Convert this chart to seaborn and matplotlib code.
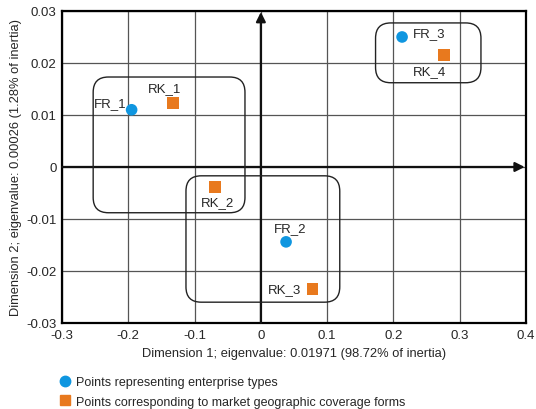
import numpy as np
import pandas as pd
import matplotlib
matplotlib.use("Agg")
import matplotlib.pyplot as plt
import seaborn as sns
from matplotlib.patches import FancyBboxPatch
from matplotlib.lines import Line2D

# -----------------------------
# DATA
# -----------------------------
labels = ["FR_1", "FR_2", "FR_3", "RK_1", "RK_2", "RK_3", "RK_4"]
dim1 = [-0.195, 0.038, 0.213, -0.133, -0.069, 0.078, 0.276]
dim2 = [0.011, -0.0144, 0.025, 0.0123, -0.0038, -0.0235, 0.0215]
groups = ["enterprise"] * 3 + ["market"] * 4
legend_text = ["Points representing enterprise types",
               "Points corresponding to market geographic coverage forms"]

# group boxes: (x0, y0, x1, y1)
boxes = [(-0.253, -0.0088, -0.024, 0.0173),
         (-0.113, -0.026, 0.119, -0.0017),
         (0.173, 0.0162, 0.332, 0.0277)]

df = pd.DataFrame({"label": labels, "x": dim1, "y": dim2, "group": groups})

# -----------------------------
# PLOT
# -----------------------------
sns.set_style("white")
plt.rcParams["font.family"] = ["Liberation Sans", "DejaVu Sans"]

fig = plt.figure(figsize=(5.36, 4.10), dpi=100)
ax = fig.add_axes([0.1157, 0.2098, 0.8657, 0.7610])

blue = "#0f96e0"
orange = "#e8791e"

sns.scatterplot(data=df, x="x", y="y", hue="group", style="group",
                palette={"enterprise": blue, "market": orange},
                markers={"enterprise": "o", "market": "s"},
                s=70, edgecolor="none", legend=False, ax=ax, zorder=5)

ax.set_xlim(-0.3, 0.4)
ax.set_ylim(-0.03, 0.03)
ax.set_xticks(np.arange(-0.3, 0.41, 0.1))
ax.set_yticks(np.arange(-0.03, 0.031, 0.01))
ax.set_xticklabels(["-0.3", "-0.2", "-0.1", "0", "0.1", "0.2", "0.3", "0.4"])
ax.set_yticklabels(["-0.03", "-0.02", "-0.01", "0", "0.01", "0.02", "0.03"])
ax.tick_params(labelsize=9.5, length=0, pad=4)
ax.grid(True, color="#555555", lw=0.9)
for sp in ax.spines.values():
    sp.set_color("black")
    sp.set_linewidth(1.6)

ax.set_xlabel("Dimension 1; eigenvalue: 0.01971 (98.72% of inertia)", fontsize=9.3, labelpad=5)
ax.set_ylabel("Dimension 2; eigenvalue: 0.00026 (1.28% of inertia)", fontsize=9.3, labelpad=3)

# central axes with arrows
ax.annotate("", xy=(0.398, 0), xytext=(-0.3, 0),
            arrowprops=dict(arrowstyle="-|>", lw=1.6, color="#111111",
                            mutation_scale=14, shrinkA=0, shrinkB=0), zorder=3)
ax.annotate("", xy=(0, 0.0298), xytext=(0, -0.03),
            arrowprops=dict(arrowstyle="-|>", lw=1.6, color="#111111",
                            mutation_scale=14, shrinkA=0, shrinkB=0), zorder=3)

# rounded group boxes
for x0, y0, x1, y1 in boxes:
    ax.add_patch(FancyBboxPatch((x0, y0), x1 - x0, y1 - y0,
                                boxstyle="round,pad=0,rounding_size=0.023",
                                mutation_aspect=0.1275, fill=False,
                                ec="#222222", lw=1.0, zorder=4))

# point labels
offsets = {"FR_1": (-0.033, 0.0012),
           "FR_2": (0.006, 0.0027),
           "FR_3": (0.041, 0.0008),
           "RK_1": (-0.012, 0.0029),
           "RK_2": (0.004, -0.003),
           "RK_3": (-0.042, 0.0),
           "RK_4": (-0.021, -0.003)}
for lab, xv, yv in zip(labels, dim1, dim2):
    dx, dy = offsets[lab]
    ax.text(xv + dx, yv + dy, lab, fontsize=9.5, ha="center", va="center", zorder=6)

handles = [Line2D([], [], ls="none", marker="o", color=blue, markersize=7.5),
           Line2D([], [], ls="none", marker="s", color=orange, markersize=7.5)]
fig.legend(handles, legend_text, loc="upper left", bbox_to_anchor=(0.103, 0.092),
           frameon=False, fontsize=9, handlelength=0.8, handletextpad=0.5,
           labelspacing=0.6, borderaxespad=0)

fig.savefig("out.png", dpi=100)
